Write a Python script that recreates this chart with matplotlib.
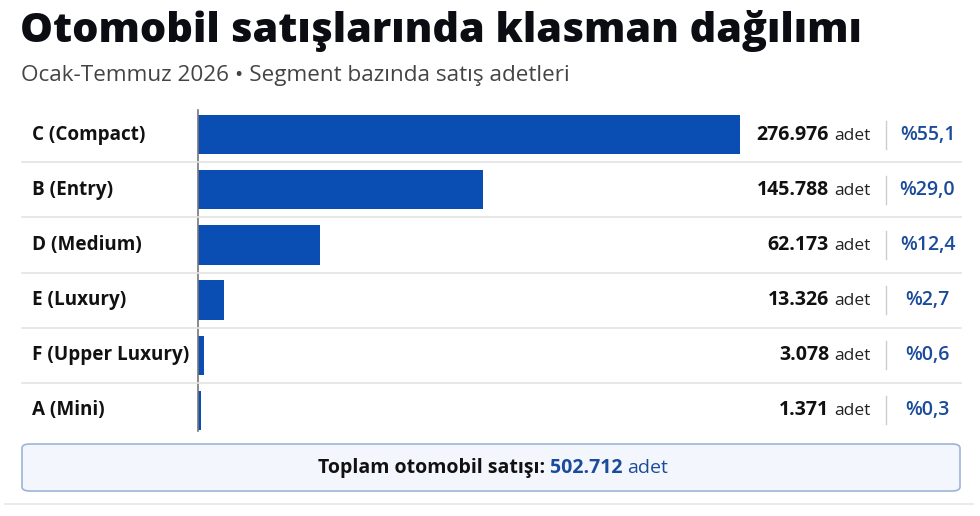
import matplotlib
matplotlib.use("Agg")
import matplotlib.pyplot as plt
from matplotlib.patches import FancyBboxPatch
from matplotlib.lines import Line2D

plt.rcParams['font.family'] = ['Open Sans', 'DejaVu Sans']

# data
segments = ["C (Compact)", "B (Entry)", "D (Medium)", "E (Luxury)", "F (Upper Luxury)", "A (Mini)"]
sales = [276976, 145788, 62173, 13326, 3078, 1371]
shares = ["%55,1", "%29,0", "%12,4", "%2,7", "%0,6", "%0,3"]
total_label = "502.712"

W, H = 980, 516
fig = plt.figure(figsize=(W / 100, H / 100), dpi=100)
fig.patch.set_facecolor("white")

def fx(px):
    return px / W

def fy(py):
    return 1 - py / H

bar_color = "#0a4db3"
pct_color = "#1b4b9b"

# title / subtitle
fig.text(fx(20), fy(31), "Otomobil satışlarında klasman dağılımı", fontsize=29.8,
         fontweight="heavy", color="#0b0d12", va="center", ha="left")
fig.text(fx(21), fy(76), "Ocak-Temmuz 2026 • Segment bazında satış adetleri", fontsize=16.2,
         color="#444444", va="center", ha="left")

# bar axes: x from 198 px, rows from 107 to 438 px
top, bottom = 107, 438
left_px, right_px = 198, 740
ax = fig.add_axes([fx(left_px), fy(bottom), fx(right_px - left_px), (bottom - top) / H])
ax.set_xlim(0, max(sales))
ax.set_ylim(len(segments) - 0.5, -0.5)
ax.axis("off")
ypos = list(range(len(segments)))
ax.barh(ypos, sales, height=0.71, color=bar_color, clip_on=False, zorder=3)

# axis line
fig.add_artist(Line2D([fx(198), fx(198)], [fy(110), fy(431)], color="#777777", lw=1.2))

row_h = (bottom - top) / len(segments)
for i, (seg, val, pct) in enumerate(zip(segments, sales, shares)):
    cy = top + row_h * (i + 0.5)
    fig.text(fx(32), fy(cy), seg, fontsize=13.6, fontweight="bold", color="#111111",
             va="center", ha="left")
    fig.text(fx(871), fy(cy + 1), "adet", fontsize=12.5, color="#222222", va="center", ha="right")
    num = f"{val:,}".replace(",", ".")
    fig.text(fx(829), fy(cy), num, fontsize=14, fontweight="bold", color="#111111",
             va="center", ha="right")
    fig.add_artist(Line2D([fx(886), fx(886)], [fy(cy - 14), fy(cy + 14)], color="#cccccc", lw=1))
    fig.text(fx(927.5), fy(cy), pct, fontsize=14, fontweight="semibold", color=pct_color,
             va="center", ha="center")
    if i < len(segments) - 1:
        ly = top + row_h * (i + 1)
        fig.add_artist(Line2D([fx(22), fx(961)], [fy(ly), fy(ly)], color="#e3e3e3", lw=1.2))

# total box
box = FancyBboxPatch((fx(22), fy(491)), fx(938), (491 - 444) / H,
                     boxstyle="round,pad=0,rounding_size=0.008",
                     transform=fig.transFigure, facecolor="#f3f7fd", edgecolor="#9db4d8", lw=1.2)
fig.add_artist(box)

fig.canvas.draw()
r = fig.canvas.get_renderer()
parts = [("Toplam otomobil satışı: ", "bold", "#111111"),
         (total_label + " ", "bold", pct_color),
         ("adet", "normal", pct_color)]
texts = []
widths = []
for s, wgt, col in parts:
    t = fig.text(0, fy(468), s, fontsize=14, fontweight=wgt, color=col, va="center", ha="left")
    bb = t.get_window_extent(renderer=r)
    texts.append(t)
    widths.append(bb.width)
start = 493 - sum(widths) / 2
for t, w in zip(texts, widths):
    t.set_x(fx(start))
    start += w

fig.add_artist(Line2D([fx(5), fx(973)], [fy(504), fy(504)], color="#e6e6e6", lw=1.2))

fig.savefig("out.png", dpi=100, facecolor="white")
